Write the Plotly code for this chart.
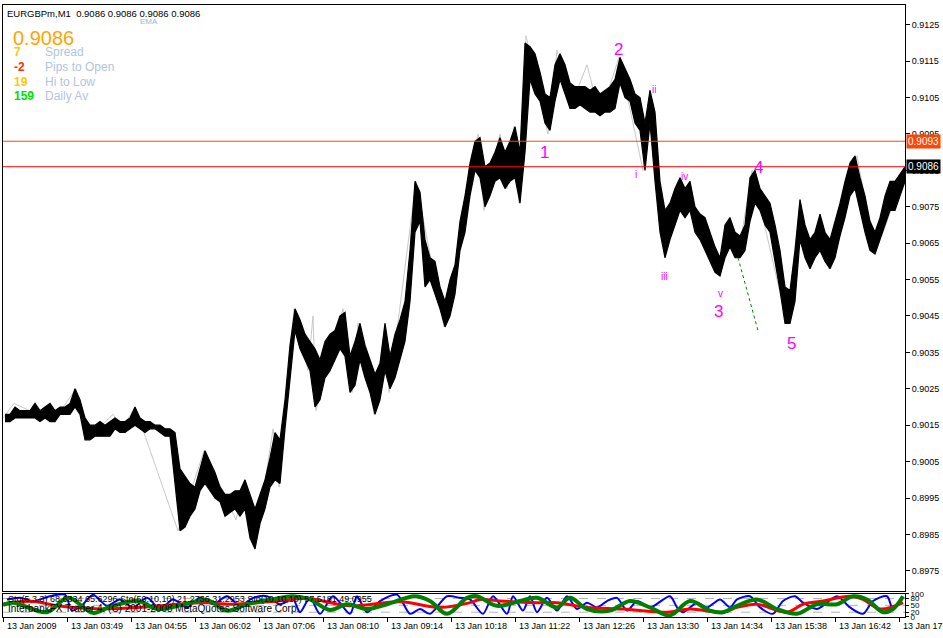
import plotly.graph_objects as go

# ---------------- data ----------------
header_text = "EURGBPm,M1  0.9086 0.9086 0.9086 0.9086"
bid_price = 0.9086
ask_price = 0.9093

# M1 bars sampled every 5 bars: high / low
highs = [0.9018, 0.9018, 0.9020, 0.9019, 0.9019, 0.9019, 0.9021, 0.9019, 0.9020, 0.9021,
         0.9019, 0.9020, 0.9020, 0.9021, 0.9025, 0.9022, 0.9017, 0.9015, 0.9015, 0.9016,
         0.9015, 0.9016, 0.9017, 0.9016, 0.9016, 0.9017, 0.9020, 0.9017, 0.9016, 0.9016,
         0.9015, 0.9015, 0.9014, 0.9014, 0.9013, 0.9003, 0.9001, 0.8999, 0.8998, 0.9003,
         0.9008, 0.9005, 0.9002, 0.8998, 0.8996, 0.8996, 0.8997, 0.8997, 0.9000, 0.8996,
         0.8992, 0.8996, 0.9000, 0.9006, 0.9013, 0.9011, 0.9022, 0.9037, 0.9047, 0.9044,
         0.9040, 0.9038, 0.9036, 0.9033, 0.9038, 0.9040, 0.9041, 0.9045, 0.9046, 0.9034,
         0.9038, 0.9043, 0.9037, 0.9033, 0.9029, 0.9032, 0.9043, 0.9034, 0.9040, 0.9044,
         0.9049, 0.9063, 0.9082, 0.9079, 0.9066, 0.9061, 0.9060, 0.9053, 0.9049, 0.9055,
         0.9059, 0.9071, 0.9078, 0.9087, 0.9093, 0.9094, 0.9086, 0.9087, 0.9090, 0.9094,
         0.9090, 0.9093, 0.9097, 0.9090, 0.9120, 0.9119, 0.9117, 0.9112, 0.9106, 0.9105,
         0.9114, 0.9117, 0.9114, 0.9109, 0.9108, 0.9108, 0.9108, 0.9107, 0.9108, 0.9106,
         0.9107, 0.9108, 0.9110, 0.9116, 0.9113, 0.9110, 0.9106, 0.9105, 0.9098, 0.9107,
         0.9101, 0.9082, 0.9074, 0.9076, 0.9080, 0.9083, 0.9080, 0.9082, 0.9075, 0.9073,
         0.9072, 0.9068, 0.9064, 0.9061, 0.9070, 0.9072, 0.9068, 0.9067, 0.9070, 0.9083,
         0.9085, 0.9080, 0.9078, 0.9076, 0.9070, 0.9063, 0.9053, 0.9052, 0.9063, 0.9077,
         0.9070, 0.9066, 0.9068, 0.9073, 0.9068, 0.9066, 0.9071, 0.9076, 0.9082, 0.9087,
         0.9089, 0.9083, 0.9078, 0.9071, 0.9068, 0.9072, 0.9078, 0.9082, 0.9082, 0.9084,
         0.9086]
lows = [0.9016, 0.9016, 0.9017, 0.9017, 0.9017, 0.9017, 0.9017, 0.9016, 0.9017, 0.9016,
        0.9016, 0.9018, 0.9018, 0.9018, 0.9020, 0.9018, 0.9011, 0.9011, 0.9012, 0.9012,
        0.9012, 0.9012, 0.9014, 0.9013, 0.9013, 0.9014, 0.9015, 0.9014, 0.9013, 0.9014,
        0.9014, 0.9013, 0.9012, 0.9012, 0.9000, 0.8986, 0.8987, 0.8990, 0.8992, 0.8997,
        0.8999, 0.8997, 0.8995, 0.8994, 0.8990, 0.8991, 0.8992, 0.8990, 0.8992, 0.8984,
        0.8981, 0.8988, 0.8992, 0.8998, 0.9000, 0.8999, 0.9014, 0.9028, 0.9041, 0.9036,
        0.9033, 0.9030, 0.9020, 0.9022, 0.9028, 0.9030, 0.9033, 0.9036, 0.9034, 0.9024,
        0.9026, 0.9033, 0.9028, 0.9024, 0.9018, 0.9022, 0.9030, 0.9025, 0.9028, 0.9033,
        0.9038, 0.9049, 0.9068, 0.9071, 0.9053, 0.9055, 0.9051, 0.9047, 0.9042, 0.9045,
        0.9051, 0.9063, 0.9068, 0.9078, 0.9085, 0.9083, 0.9075, 0.9078, 0.9082, 0.9083,
        0.9080, 0.9082, 0.9083, 0.9076, 0.9090, 0.9110, 0.9106, 0.9104, 0.9098, 0.9096,
        0.9104, 0.9110, 0.9106, 0.9102, 0.9102, 0.9103, 0.9102, 0.9101, 0.9101, 0.9100,
        0.9101, 0.9101, 0.9102, 0.9109, 0.9105, 0.9104, 0.9098, 0.9096, 0.9085, 0.9098,
        0.9082, 0.9068, 0.9061, 0.9066, 0.9070, 0.9074, 0.9072, 0.9074, 0.9068, 0.9066,
        0.9063, 0.9060, 0.9057, 0.9056, 0.9061, 0.9064, 0.9061, 0.9061, 0.9063, 0.9071,
        0.9076, 0.9074, 0.9070, 0.9068, 0.9060, 0.9052, 0.9043, 0.9043, 0.9049, 0.9066,
        0.9061, 0.9058, 0.9061, 0.9063, 0.9060, 0.9058, 0.9061, 0.9067, 0.9072, 0.9078,
        0.9080, 0.9074, 0.9068, 0.9063, 0.9062, 0.9066, 0.9070, 0.9074, 0.9074, 0.9078,
        0.9082]
bar_step = 5
bar_index = [2 + bar_step * i for i in range(len(highs))]

# ZigZag pivots (bar index, price)
zz_bars = [0, 11, 50, 73, 84, 110, 119, 132, 175, 201, 233, 242, 252, 270, 276, 291, 305, 310,
           313, 340, 349, 355, 371, 382, 386, 413, 441, 475, 481, 497, 504, 511, 516, 523, 545,
           554, 567, 584, 597, 616, 640, 647, 662, 677, 717, 727, 735, 749, 784, 797, 807, 817,
           826, 854, 872, 900]
zz_prices = [0.9017, 0.9021, 0.9016, 0.9025, 0.9011, 0.9018, 0.9014, 0.9020, 0.8986, 0.9008,
             0.8989, 0.9000, 0.8981, 0.9014, 0.8998, 0.9047, 0.9030, 0.9045, 0.9019, 0.9047,
             0.9024, 0.9043, 0.9018, 0.9043, 0.9024, 0.9082, 0.9042, 0.9095, 0.9074, 0.9095,
             0.9080, 0.9097, 0.9076, 0.9122, 0.9095, 0.9118, 0.9102, 0.9114, 0.9100, 0.9116,
             0.9085, 0.9107, 0.9061, 0.9083, 0.9056, 0.9072, 0.9061, 0.9085, 0.9043, 0.9077,
             0.9058, 0.9073, 0.9058, 0.9089, 0.9062, 0.9083]

# trend line (dotted green)
trend_bars = [735, 755]
trend_prices = [0.9061, 0.9041]

# wave labels
wave_text = ["1", "2", "3", "4", "5"]
wave_bars = [541, 615, 715, 755, 788]
wave_prices = [0.9090, 0.91182, 0.90463, 0.90857, 0.90374]
subwave_text = ["i", "ii", "iii", "iv", "v"]
subwave_bars = [633, 651, 661, 681, 717]
subwave_prices = [0.90838, 0.91071, 0.90558, 0.90832, 0.90512]

# axes labels
price_ticks = [0.9125, 0.9115, 0.9105, 0.9095, 0.9085, 0.9075, 0.9065, 0.9055, 0.9045,
               0.9035, 0.9025, 0.9015, 0.9005, 0.8995, 0.8985, 0.8975]
price_tick_labels = ["0.9125", "0.9115", "0.9105", "0.9095", "0.9085", "0.9075", "0.9065",
                     "0.9055", "0.9045", "0.9035", "0.9025", "0.9015", "0.9005", "0.8995",
                     "0.8985", "0.8975"]
time_labels = ["13 Jan 2009", "13 Jan 03:49", "13 Jan 04:55", "13 Jan 06:02", "13 Jan 07:06",
               "13 Jan 08:10", "13 Jan 09:14", "13 Jan 10:18", "13 Jan 11:22", "13 Jan 12:26",
               "13 Jan 13:30", "13 Jan 14:34", "13 Jan 15:38", "13 Jan 16:42", "13 Jan 17:46"]
bars_per_label = 64

# info panel
info_values = ["7", "-2", "19", "159"]
info_names = ["Spread", "Pips to Open", "Hi to Low", "Daily Av"]
info_colors = ["#FFC800", "#FF3300", "#FFC800", "#00E000"]

# stochastic sub-window: (bar index, value) pivots
sto_blue_bars = [4, 17, 30, 47, 62, 69, 80, 90, 104, 117, 130, 144, 157, 170, 184, 197, 210,
                 224, 237, 250, 264, 277, 290, 297, 307, 317, 330, 347, 354, 364, 377, 394, 407,
                 417, 427, 444, 457, 467, 480, 490, 504, 510, 520, 527, 534, 544, 554, 564, 574,
                 584, 594, 604, 614, 624, 634, 647, 667, 674, 680, 694, 704, 717, 727, 734, 747,
                 757, 770, 780, 792, 800, 814, 834, 847, 860, 870, 884, 890, 900]
sto_blue = [76, 83, 69, 90, 97, 27, 55, 97, 48, 76, 41, 83, 34, 76, 41, 83, 55, 90, 48, 83, 90,
            55, 76, 20, 83, 13, 90, 13, 90, 20, 69, 97, 13, 34, 13, 90, 83, 76, 13, 90, 13, 90,
            27, 90, 20, 83, 27, 90, 34, 62, 41, 69, 83, 27, 69, 41, 90, 41, 20, 62, 41, 76, 41,
            76, 90, 41, 13, 69, 90, 62, 34, 90, 41, 13, 69, 90, 34, 83]
sto_red_bars = [0, 17, 34, 54, 97, 147, 197, 230, 274, 304, 347, 397, 437, 467, 477, 497, 534,
                554, 584, 620, 664, 687, 720, 734, 754, 784, 800, 820, 847, 860, 877, 900]
sto_red = [55, 66, 66, 48, 34, 44, 62, 55, 69, 80, 48, 66, 41, 62, 76, 69, 62, 62, 41, 34, 20,
           34, 20, 41, 55, 20, 55, 69, 90, 76, 34, 62]
sto_green_bars = [0, 10, 44, 65, 90, 107, 135, 154, 179, 204, 224, 244, 269, 290, 307, 327, 344,
                  364, 384, 412, 427, 444, 464, 474, 494, 517, 534, 554, 567, 584, 607, 627, 647,
                  667, 687, 707, 720, 734, 754, 774, 794, 814, 834, 850, 864, 880, 890, 900]
sto_green = [52, 62, 20, 83, 17, 44, 69, 34, 52, 73, 27, 55, 76, 90, 76, 30, 55, 34, 55, 90, 69,
             13, 83, 90, 48, 69, 83, 41, 83, 34, 27, 69, 41, 6, 69, 27, 20, 48, 76, 34, 13, 55,
             55, 90, 76, 20, 34, 90]
sto_levels = [20, 50, 80]
sto_text_1 = "Sto(5,3,3) 68.6334 65.6296 Sto(50,10,10) 21.2736 31.2953 Sto(10,10,10) 57.5181 49.0955"
sto_text_2 = "InterbankFX Trader 4, (C) 2001-2008 MetaQuotes Software Corp."

# ---------------- figure ----------------
W, H = 943, 638
def px_x(p):
    return p / W
def px_y(p):
    return 1 - p / H

FONT = "Liberation Sans, Arial, sans-serif"
fig = go.Figure()

# zigzag (drawn underneath the bars, as in the terminal)
fig.add_trace(go.Scatter(x=zz_bars, y=zz_prices, mode="lines", line=dict(color="#C8C8C8", width=1),
                         hoverinfo="skip", showlegend=False, xaxis="x", yaxis="y"))
# price range band: highs forward, lows backward, filled solid black
band_x = bar_index + bar_index[::-1]
band_y = highs + lows[::-1]
fig.add_trace(go.Scatter(x=band_x, y=band_y, mode="lines", line=dict(color="black", width=1.2),
                         fill="toself", fillcolor="black", hoverinfo="skip", showlegend=False,
                         xaxis="x", yaxis="y"))
# trend line
fig.add_trace(go.Scatter(x=trend_bars, y=trend_prices, mode="lines",
                         line=dict(color="#008000", width=1, dash="dot"),
                         hoverinfo="skip", showlegend=False, xaxis="x", yaxis="y"))

# stochastic lines
fig.add_trace(go.Scatter(x=sto_blue_bars, y=sto_blue, mode="lines",
                         line=dict(color="#0000FF", width=2, shape="spline", smoothing=0.8),
                         hoverinfo="skip", showlegend=False, xaxis="x2", yaxis="y2"))
fig.add_trace(go.Scatter(x=sto_red_bars, y=sto_red, mode="lines",
                         line=dict(color="#FF0000", width=3, shape="spline", smoothing=1),
                         hoverinfo="skip", showlegend=False, xaxis="x2", yaxis="y2"))
fig.add_trace(go.Scatter(x=sto_green_bars, y=sto_green, mode="lines",
                         line=dict(color="#008000", width=4, shape="spline", smoothing=1),
                         hoverinfo="skip", showlegend=False, xaxis="x2", yaxis="y2"))

n_bars = 902
shapes = []
shapes.append(dict(type="line", xref="x", yref="y", x0=0, x1=n_bars, y0=ask_price, y1=ask_price,
                   line=dict(color="#FF4500", width=1)))
shapes.append(dict(type="line", xref="x", yref="y", x0=0, x1=n_bars, y0=bid_price, y1=bid_price,
                   line=dict(color="#FF0000", width=1)))
for lv in sto_levels:
    shapes.append(dict(type="line", xref="x2", yref="y2", x0=0, x1=n_bars, y0=lv, y1=lv,
                       line=dict(color="#B4B4B4", width=1, dash="dash"), layer="below"))

ann = []
for t, b, p in zip(wave_text, wave_bars, wave_prices):
    ann.append(dict(x=b, y=p, xref="x", yref="y", text=t, showarrow=False,
                    font=dict(color="#FF00FF", size=17, family=FONT)))
for t, b, p in zip(subwave_text, subwave_bars, subwave_prices):
    ann.append(dict(x=b, y=p, xref="x", yref="y", text=t, showarrow=False,
                    font=dict(color="#FF00FF", size=10, family=FONT)))
# price boxes on axis
ann.append(dict(x=px_x(906), y=ask_price, xref="paper", yref="y", text=f"{ask_price:.4f}",
                xanchor="left", showarrow=False, bgcolor="#FF4500", borderpad=1,
                font=dict(color="white", size=10, family=FONT)))
ann.append(dict(x=px_x(906), y=bid_price, xref="paper", yref="y", text=f"{bid_price:.4f}",
                xanchor="left", showarrow=False, bgcolor="black", borderpad=1,
                font=dict(color="white", size=10, family=FONT)))
# time labels
for i, t in enumerate(time_labels):
    ann.append(dict(x=i * bars_per_label + 2, y=px_y(630), xref="x2", yref="paper", text=t,
                    xanchor="left", yanchor="middle", showarrow=False,
                    font=dict(color="black", size=9, family=FONT)))
# header and info block
ann.append(dict(x=px_x(5), y=px_y(10), xref="paper", yref="paper", text=header_text,
                xanchor="left", yanchor="middle", showarrow=False,
                font=dict(color="black", size=9.5, family=FONT)))
ann.append(dict(x=px_x(138), y=px_y(18), xref="paper", yref="paper", text="EMA",
                xanchor="left", yanchor="middle", showarrow=False,
                font=dict(color="#9DB0D6", size=8, family=FONT)))
ann.append(dict(x=px_x(11), y=px_y(34), xref="paper", yref="paper", text=f"{bid_price:.4f}",
                xanchor="left", yanchor="middle", showarrow=False,
                font=dict(color="#FFA500", size=20, family=FONT)))
for k, (v, nme, col) in enumerate(zip(info_values, info_names, info_colors)):
    yy = 48.5 + k * 15
    ann.append(dict(x=px_x(12), y=px_y(yy), xref="paper", yref="paper", text=f"<b>{v}</b>",
                    xanchor="left", yanchor="middle", showarrow=False,
                    font=dict(color=col, size=12, family=FONT)))
    ann.append(dict(x=px_x(43), y=px_y(yy), xref="paper", yref="paper", text=nme,
                    xanchor="left", yanchor="middle", showarrow=False,
                    font=dict(color="#B0C4DE", size=12, family=FONT)))
ann.append(dict(x=px_x(6), y=px_y(603), xref="paper", yref="paper", text=sto_text_1,
                xanchor="left", yanchor="middle", showarrow=False,
                font=dict(color="black", size=9, family=FONT)))
ann.append(dict(x=px_x(6), y=px_y(612), xref="paper", yref="paper", text=sto_text_2,
                xanchor="left", yanchor="middle", showarrow=False,
                font=dict(color="black", size=10, family=FONT)))

top_px, main_bot_px = 1, 594
ind_top_px, ind_bot_px = 597, 621
px_per_price = 36870
price_top = 0.9125 + (21 - top_px) / px_per_price
price_bot = 0.9125 - (main_bot_px - 21) / px_per_price

fig.update_layout(
    width=W, height=H, margin=dict(l=0, r=0, t=0, b=0),
    paper_bgcolor="white", plot_bgcolor="white",
    showlegend=False,
    xaxis=dict(domain=[px_x(3), px_x(905)], range=[0, n_bars], showgrid=False, zeroline=False,
               showticklabels=False, showline=True, mirror=True, linecolor="black", linewidth=1,
               ticks=""),
    yaxis=dict(domain=[px_y(main_bot_px), px_y(top_px)], range=[price_bot, price_top],
               side="right", showgrid=False, zeroline=False, tickvals=price_ticks,
               ticktext=price_tick_labels, ticks="outside", ticklen=4, tickcolor="black",
               showline=True, mirror=True, linecolor="black", linewidth=1,
               tickfont=dict(size=9, family=FONT, color="black")),
    xaxis2=dict(domain=[px_x(3), px_x(905)], range=[0, n_bars], anchor="y2", showgrid=False,
                zeroline=False, tickvals=[i * bars_per_label for i in range(len(time_labels))],
                ticktext=[""] * len(time_labels), ticks="outside", ticklen=4, tickcolor="black",
                showline=True, mirror=True, linecolor="black", linewidth=1),
    yaxis2=dict(domain=[px_y(ind_bot_px), px_y(ind_top_px)], range=[-2, 102], anchor="x2",
                side="right", showgrid=False, zeroline=False, tickvals=[0, 20, 50, 80, 100],
                ticktext=["0", "20", "50", "80", "100"], ticks="outside", ticklen=3,
                tickcolor="black", showline=True, mirror=True, linecolor="black", linewidth=1,
                tickfont=dict(size=8, family=FONT, color="black")),
    shapes=shapes, annotations=ann,
)

fig.write_html("out.html", config={"displayModeBar": False},
               post_script="document.body.style.margin='0';")
